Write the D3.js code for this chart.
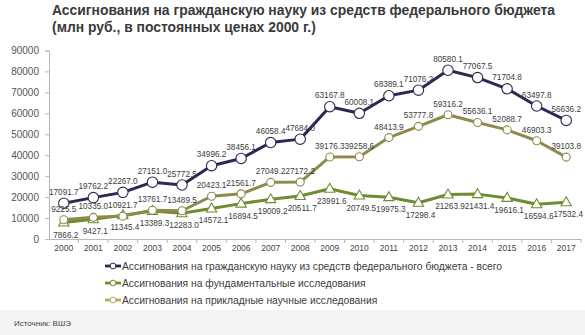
<!DOCTYPE html>
<html><head><meta charset="utf-8">
<script src="https://cdn.jsdelivr.net/npm/d3@7"></script>
<style>
html,body{margin:0;padding:0;background:#fff;}
svg{display:block;font-family:"Liberation Sans",Arial,sans-serif;}
</style></head>
<body>
<script>
const years = ["2000","2001","2002","2003","2004","2005","2006","2007","2008","2009","2010","2011","2012","2013","2014","2015","2016","2017"];
const totalValues = [17091.7,19762.2,22267.0,27151.0,25772.5,34996.2,38456.1,46058.4,47684.0,63167.8,60008.1,68389.1,71076.2,80580.1,77067.5,71704.8,63497.8,56636.2];
const fundamentalValues = [7866.2,9427.1,11345.4,13389.3,12283.0,14572.1,16894.5,19009.2,20511.7,23991.6,20749.5,19975.3,17298.4,21263.9,21431.4,19616.1,16594.6,17532.4];
const appliedValues = [9225.5,10335.0,10921.7,13761.7,13489.5,20423.1,21561.7,27049.2,27172.2,39176.3,39258.6,48413.9,53777.8,59316.2,55636.1,52088.7,46903.3,39103.8];
const yTicks = [0,10000,20000,30000,40000,50000,60000,70000,80000,90000];
const seriesNames = [
  "Ассигнования на гражданскую науку из средств федерального бюджета - всего",
  "Ассигнования на фундаментальные исследования",
  "Ассигнования на прикладные научные исследования"
];
const titleLines = ["Ассигнования на гражданскую науку из средств федерального бюджета","(млн руб., в постоянных ценах 2000 г.)"];
const sourceText = "Источник: ВШЭ";

const W = 585, H = 335;
const svg = d3.select("body").append("svg").attr("width", W).attr("height", H);

// footer band
svg.append("rect").attr("x",0).attr("y",310).attr("width",W).attr("height",H-310).attr("fill","#f4f4f4");

const x = d3.scaleBand().domain(years).range([49, 581]).padding(0);
const y = d3.scaleLinear().domain([0, 90000]).range([239, 50.5]);
const cx = d => x(d) + x.bandwidth()/2;

// title
svg.append("g").selectAll("text").data(titleLines).join("text")
  .attr("x", 52).attr("y", (d,i) => 15 + i*17)
  .attr("font-size", 13.9).attr("font-weight", "bold").attr("fill", "#3a3a3a")
  .text(d => d);

// y axis
const yAxis = svg.append("g").attr("transform", "translate(49,0)")
  .call(d3.axisLeft(y).tickValues(yTicks).tickSize(4).tickPadding(6).tickFormat(d3.format("d")));
yAxis.selectAll("path,line").attr("stroke", "#b8b8b8");
yAxis.selectAll("text").attr("font-size", 10).attr("fill", "#555").attr("font-family", '"Liberation Sans",Arial,sans-serif');

// x axis
const xAxis = svg.append("g").attr("transform", "translate(0,239)")
  .call(d3.axisBottom(x).tickSize(0).tickPadding(6));
xAxis.select("path").attr("stroke", "#b8b8b8");
xAxis.selectAll("text").attr("font-size", 8.5).attr("fill", "#444").attr("font-family", '"Liberation Sans",Arial,sans-serif');
// boundary ticks
svg.append("g").selectAll("line").data(years).join("line")
  .attr("x1", d => x(d) + x.bandwidth()).attr("x2", d => x(d) + x.bandwidth())
  .attr("y1", 239).attr("y2", 243).attr("stroke", "#b8b8b8");

const series = [
  {name: seriesNames[0], values: totalValues, color: "#2f2653", marker: "circle", r: 5.2, lab: -8.5},
  {name: seriesNames[1], values: fundamentalValues, color: "#6f8c32", marker: "triangle", r: 4, lab: 15},
  {name: seriesNames[2], values: appliedValues, color: "#8e8a4c", marker: "circle", r: 4, lab: -8}
];
const drawOrder = [1, 2, 0];
const line = d3.line().x((d,i) => cx(years[i])).y(d => y(d));
const tri = d3.symbol().type(d3.symbolTriangle).size(46);

drawOrder.forEach(k => {
  const s = series[k];
  const g = svg.append("g");
  g.append("path").datum(s.values).attr("d", line)
    .attr("fill", "none").attr("stroke", s.color).attr("stroke-width", 3).attr("stroke-linejoin", "round");
  if (s.marker === "circle") {
    g.selectAll("circle").data(s.values).join("circle")
      .attr("cx", (d,i) => cx(years[i])).attr("cy", d => y(d)).attr("r", s.r)
      .attr("fill", "#fff").attr("stroke", s.color).attr("stroke-width", 1.1);
  } else {
    g.selectAll("path.m").data(s.values).join("path").attr("class","m")
      .attr("d", tri).attr("transform", (d,i) => `translate(${cx(years[i])},${y(d)+0.5})`)
      .attr("fill", "#fff").attr("stroke", s.color).attr("stroke-width", 1.1);
  }
});
series.forEach(s => {
  svg.append("g").selectAll("text").data(s.values).join("text")
    .attr("x", (d,i) => cx(years[i]) + (s.lab > 0 ? 2 : 0)).attr("y", d => y(d) + s.lab)
    .attr("text-anchor", "middle").attr("font-size", 8.2).attr("fill", "#3c3c3c")
    .text(d => d.toFixed(1));
});

// legend
const legendColors = ["#2f2653", "#6f8c32", "#b3ad55"];
const leg = svg.append("g");
series.forEach((s, i) => {
  const ly = 266 + i*17;
  const g = leg.append("g");
  g.append("line").attr("x1", 105).attr("x2", 121).attr("y1", ly).attr("y2", ly)
    .attr("stroke", legendColors[i]).attr("stroke-width", 2.8);
  g.append("circle").attr("cx", 113).attr("cy", ly).attr("r", 2.9)
    .attr("fill", "#fff").attr("stroke", legendColors[i]).attr("stroke-width", 1);
  g.append("text").attr("x", 122).attr("y", ly + 3.5).attr("font-size", 10.3).attr("fill", "#3c3c3c").text(s.name);
});

svg.append("text").attr("x", 14).attr("y", 326).attr("font-size", 8).attr("fill", "#444").text(sourceText);
</script>
</body></html>
